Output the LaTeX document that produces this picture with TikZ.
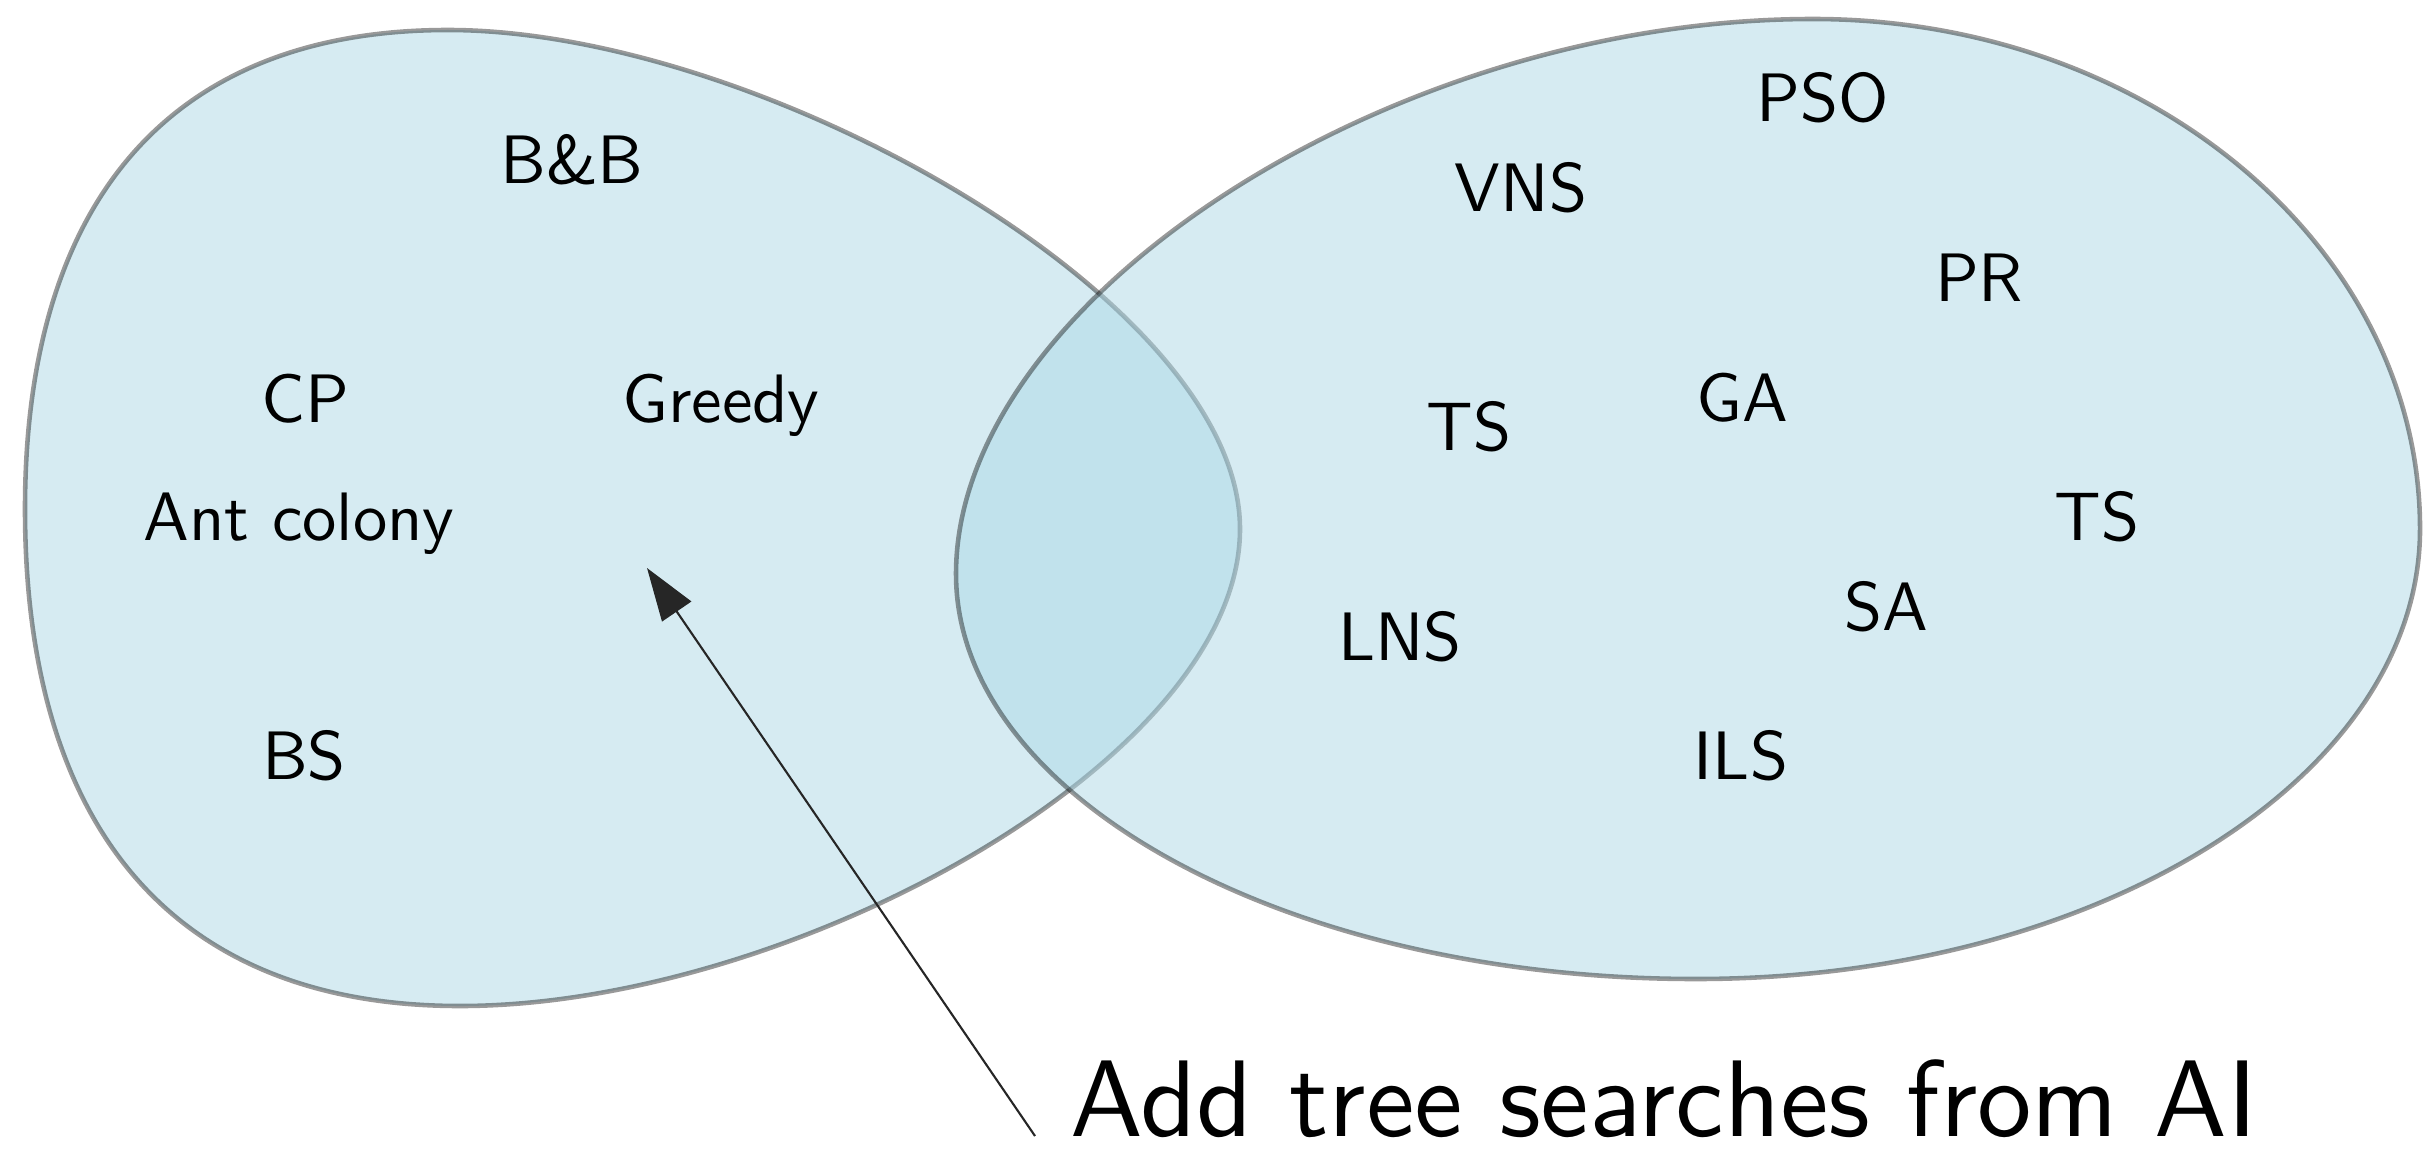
\documentclass[tikz,border=0pt]{standalone}
\usepackage{tikz}
\usetikzlibrary{arrows.meta, positioning}
\definecolor{setblue}{RGB}{173,216,230}
\newcommand{\alg}[1]{\scalebox{1.95}{#1}}
\tikzstyle{set} = [fill=setblue,
			fill opacity=0.5,
			draw=black,
			draw opacity=0.4,
			line width=1.3pt]
\tikzstyle{algo} = [anchor=base,
			font=\sffamily\fontsize{10}{12}\selectfont]
\tikzstyle{note} = [anchor=base west,
			inner sep=10pt,
			font=\sffamily\fontsize{10}{12}\selectfont]
\tikzstyle{pointer} = [draw=black!85,
			line width=0.6pt,
			-{Triangle[length=15pt, width=10pt]}]

\begin{document}
\begin{tikzpicture}
	\useasboundingbox (0,0) rectangle (24.23,-11.52);
	% exact methods
	\draw [set] (0.25,-5.09) .. controls (0.25,-1.98) and (1.73,-0.30) .. (4.48,-0.30)
		.. controls (7.60,-0.30) and (12.40,-3.00) .. (12.40,-5.29)
		.. controls (12.40,-7.60) and (7.90,-10.06) .. (4.60,-10.06)
		.. controls (1.77,-10.06) and (0.25,-8.32) .. cycle;
	% metaheuristics
	\draw [set] (9.56,-5.74) .. controls (9.56,-3.00) and (13.90,-0.19) .. (18.13,-0.19)
		.. controls (21.48,-0.19) and (24.20,-2.47) .. (24.20,-5.29)
		.. controls (24.20,-7.78) and (20.96,-9.79) .. (16.96,-9.79)
		.. controls (12.87,-9.79) and (9.56,-7.98) .. cycle;
	\node [algo] (bb) at (5.72,-1.83) {\alg{B\&B}};
	\node [algo] (cp) at (3.05,-4.22) {\alg{CP}};
	\node [algo] (greedy) at (7.21,-4.22) {\alg{Greedy}};
	\node [algo] (aco) at (2.99,-5.40) {\alg{Ant colony}};
	\node [algo] (bs) at (3.04,-7.79) {\alg{BS}};
	\node [algo] (pso) at (18.23,-1.22) {\alg{PSO}};
	\node [algo] (vns) at (15.21,-2.12) {\alg{VNS}};
	\node [algo] (pr) at (19.79,-3.01) {\alg{PR}};
	\node [algo] (ga) at (17.42,-4.21) {\alg{GA}};
	\node [algo] (ts-left) at (14.69,-4.50) {\alg{TS}};
	\node [algo] (ts-right) at (20.97,-5.40) {\alg{TS}};
	\node [algo] (sa) at (18.86,-6.30) {\alg{SA}};
	\node [algo] (lns) at (14.00,-6.60) {\alg{LNS}};
	\node [algo] (ils) at (17.41,-7.79) {\alg{ILS}};
	\node [note] (tree) at (10.35,-11.36) {\scalebox{3.1}{Add tree searches from AI}};
	\coordinate (target) at (6.47,-5.68);
	\draw [pointer] (tree.base west) -- (target);
\end{tikzpicture}
\end{document}
